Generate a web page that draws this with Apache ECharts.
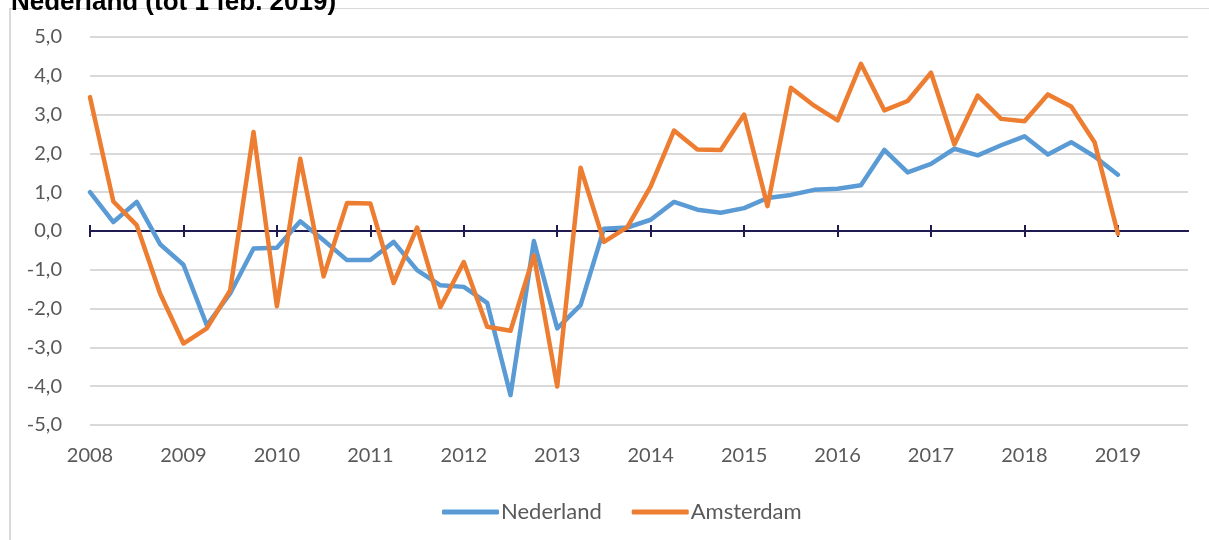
<!DOCTYPE html>
<html>
<head>
<meta charset="utf-8">
<script src="https://cdn.jsdelivr.net/npm/echarts@6/dist/echarts.min.js"></script>
<style>
  html, body { margin: 0; padding: 0; background: #fff; }
  #main { width: 1209px; height: 540px; }
</style>
</head>
<body>
<div id="main"></div>
<script>
// kwartalen 2008 K1 t/m 2019 K1, plus 3 lege kwartalen om de as door te trekken
const years = ['2008','2009','2010','2011','2012','2013','2014','2015','2016','2017','2018','2019'];
const quarters = [];
years.forEach(function (y) {
  ['K1','K2','K3','K4'].forEach(function (k) { quarters.push(y + ' ' + k); });
});

const nederland = [
  1.0, 0.23, 0.75, -0.34, -0.87, -2.43, -1.61, -0.45,
  -0.43, 0.25, -0.24, -0.75, -0.75, -0.28, -1.01, -1.40,
  -1.44, -1.85, -4.23, -0.26, -2.51, -1.91, 0.06, 0.09,
  0.29, 0.75, 0.55, 0.47, 0.59, 0.85, 0.93, 1.06,
  1.09, 1.18, 2.09, 1.51, 1.73, 2.12, 1.95, 2.21,
  2.44, 1.97, 2.29, 1.92, 1.45
];
const amsterdam = [
  3.45, 0.76, 0.15, -1.61, -2.90, -2.51, -1.53, 2.55,
  -1.94, 1.86, -1.17, 0.72, 0.71, -1.34, 0.09, -1.96,
  -0.80, -2.47, -2.57, -0.63, -4.01, 1.63, -0.28, 0.10,
  1.15, 2.59, 2.10, 2.09, 3.00, 0.64, 3.69, 3.23,
  2.85, 4.31, 3.11, 3.35, 4.08, 2.23, 3.49, 2.89,
  2.83, 3.52, 3.21, 2.29, -0.07
];

const fontFam = 'Lato, "Open Sans", sans-serif';
const chart = echarts.init(document.getElementById('main'));

// jaarstreepjes op de nullijn
const yearTick = function (idx) { return idx % 4 === 0 && idx < 45; };

chart.setOption({
  animation: false,
  title: {
    text: 'Nederland (tot 1 feb. 2019)',
    left: 6,
    top: -15,
    textStyle: { fontFamily: '"Liberation Sans", Arial, sans-serif', fontWeight: 'bold', fontSize: 26, color: '#000' }
  },
  graphic: [
    { type: 'line', shape: { x1: 10, y1: 8.5, x2: 1209, y2: 8.5 }, style: { stroke: '#d9d9d9', lineWidth: 1 } },
    { type: 'line', shape: { x1: 10, y1: 8, x2: 10, y2: 540 }, style: { stroke: '#d9d9d9', lineWidth: 2 } }
  ],
  legend: {
    data: ['Nederland', 'Amsterdam'],
    left: 437,
    top: 496,
    icon: 'roundRect',
    itemWidth: 57,
    itemHeight: 5,
    itemGap: 30,
    textStyle: { fontFamily: fontFam, fontSize: 22, color: '#595959', padding: [0, 0, 0, -3] }
  },
  grid: { left: 90, right: 21, top: 37, bottom: 115, containLabel: false },
  xAxis: [
    {
      type: 'category', data: quarters, boundaryGap: false, position: 'bottom',
      axisLine: { show: false, onZero: false },
      axisTick: { show: false },
      splitLine: { show: false },
      axisLabel: {
        interval: function (idx) { return idx % 4 === 0; },
        formatter: function (v) { return v.slice(0, 4); },
        margin: 21, fontFamily: fontFam, fontSize: 20, color: '#595959'
      }
    },
    {
      type: 'category', data: quarters, boundaryGap: false, position: 'bottom',
      axisLine: { show: true, onZero: true, onZeroAxisIndex: 0, lineStyle: { color: '#1f1a4f', width: 2 } },
      axisTick: { show: true, length: 6, interval: yearTick, lineStyle: { color: '#1f1a4f', width: 2 } },
      axisLabel: { show: false },
      splitLine: { show: false }
    },
    {
      type: 'category', data: quarters, boundaryGap: false, position: 'top',
      axisLine: { show: true, onZero: true, onZeroAxisIndex: 1, lineStyle: { color: '#1f1a4f', width: 2 } },
      axisTick: { show: true, length: 6, interval: yearTick, lineStyle: { color: '#1f1a4f', width: 2 } },
      axisLabel: { show: false },
      splitLine: { show: false }
    }
  ],
  yAxis: [
    {
      type: 'value', min: -5, max: 5, interval: 1,
      axisLine: { show: false },
      axisTick: { show: false },
      splitLine: { lineStyle: { color: '#d9d9d9', width: 2 } },
      axisLabel: {
        margin: 28, fontFamily: fontFam, fontSize: 20, color: '#595959',
        formatter: function (v) { return v.toFixed(1).replace('.', ','); }
      }
    },
    {
      type: 'value', min: -5, max: 5, interval: 1, position: 'right',
      axisLine: { show: false }, axisTick: { show: false },
      axisLabel: { show: false }, splitLine: { show: false }
    }
  ],
  series: [
    {
      name: 'Nederland', type: 'line', data: nederland, xAxisIndex: 0, yAxisIndex: 0,
      symbol: 'none', color: '#5b9bd5',
      lineStyle: { width: 4.5, color: '#5b9bd5', cap: 'round', join: 'round' }
    },
    {
      name: 'Amsterdam', type: 'line', data: amsterdam, xAxisIndex: 0, yAxisIndex: 0,
      symbol: 'none', color: '#ed7d31',
      lineStyle: { width: 4.5, color: '#ed7d31', cap: 'round', join: 'round' }
    }
  ]
});
</script>
</body>
</html>
